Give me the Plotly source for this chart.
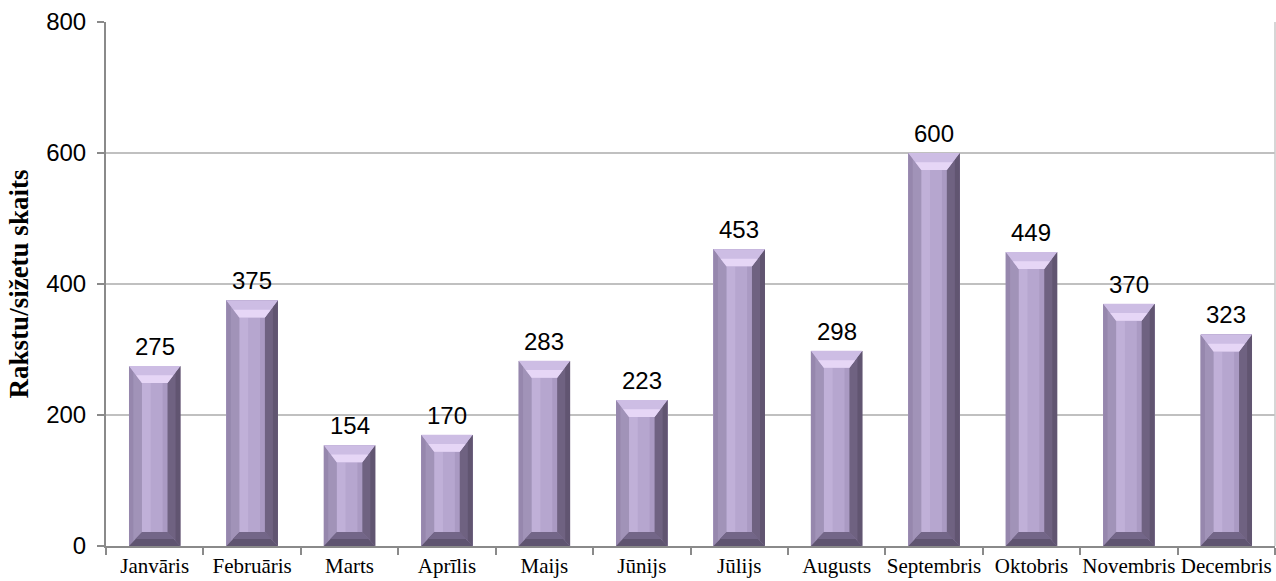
import plotly.graph_objects as go

# Monthly article/story counts
months = ["Janvāris", "Februāris", "Marts", "Aprīlis", "Maijs", "Jūnijs",
          "Jūlijs", "Augusts", "Septembris", "Oktobris", "Novembris", "Decembris"]
counts = [275, 375, 154, 170, 283, 223, 453, 298, 600, 449, 370, 323]
y_ticks = [0, 200, 400, 600, 800]

xs = list(range(len(months)))

# Bar geometry (in axis units) for the bevelled look
BAR_W = 0.528          # bar width as a fraction of category spacing
BEV_X = 0.133          # side bevel width
BEV_TOP = 26           # top bevel height (value units)
BEV_BOT = 21           # bottom bevel height (value units)


def polys(builder):
    """Join per-bar polygons into one path separated by gaps."""
    px, py = [], []
    for x, v in zip(xs, counts):
        pts = builder(x - BAR_W / 2, x + BAR_W / 2, v)
        for a, b in pts:
            px.append(a)
            py.append(b)
        px.append(pts[0][0])
        py.append(pts[0][1])
        px.append(None)
        py.append(None)
    return px, py


def face(builder, color):
    px, py = polys(builder)
    return go.Scatter(x=px, y=py, mode="lines", fill="toself",
                      fillcolor=color, line=dict(width=0),
                      hoverinfo="skip", showlegend=False)


fig = go.Figure()

# Main bar bodies
fig.add_trace(go.Bar(x=xs, y=counts, width=BAR_W,
                     marker=dict(color="#b6a6cf", line=dict(width=0)),
                     hovertemplate="%{customdata}: %{y}<extra></extra>",
                     customdata=months, showlegend=False))

# Soft highlight on the front face
fig.add_trace(face(lambda x0, x1, v: [
    (x0 + BEV_X, BEV_BOT), (x0 + BEV_X + 0.09, BEV_BOT),
    (x0 + BEV_X + 0.09, v - BEV_TOP), (x0 + BEV_X, v - BEV_TOP)], "#c0b0d8"))
fig.add_trace(face(lambda x0, x1, v: [
    (x1 - BEV_X - 0.05, BEV_BOT), (x1 - BEV_X, BEV_BOT),
    (x1 - BEV_X, v - BEV_TOP), (x1 - BEV_X - 0.05, v - BEV_TOP)], "#aa9ac3"))

# Left bevel
fig.add_trace(face(lambda x0, x1, v: [
    (x0, 0), (x0, v), (x0 + BEV_X, v - BEV_TOP), (x0 + BEV_X, BEV_BOT)], "#a193b8"))
fig.add_trace(face(lambda x0, x1, v: [
    (x0, 0), (x0, v), (x0 + 0.045, v - BEV_TOP * 0.045 / BEV_X),
    (x0 + 0.045, BEV_BOT * 0.045 / BEV_X)], "#9687ad"))

# Right bevel
fig.add_trace(face(lambda x0, x1, v: [
    (x1, 0), (x1, v), (x1 - BEV_X, v - BEV_TOP), (x1 - BEV_X, BEV_BOT)], "#6f6281"))
fig.add_trace(face(lambda x0, x1, v: [
    (x1, 0), (x1, v), (x1 - 0.05, v - BEV_TOP * 0.05 / BEV_X),
    (x1 - 0.05, BEV_BOT * 0.05 / BEV_X)], "#615571"))

# Top bevel with a bright inner rim
fig.add_trace(face(lambda x0, x1, v: [
    (x0, v), (x1, v), (x1 - BEV_X, v - BEV_TOP), (x0 + BEV_X, v - BEV_TOP)], "#cdbde4"))
fig.add_trace(face(lambda x0, x1, v: [
    (x0 + BEV_X * 0.55, v - BEV_TOP * 0.55), (x1 - BEV_X * 0.55, v - BEV_TOP * 0.55),
    (x1 - BEV_X, v - BEV_TOP), (x0 + BEV_X, v - BEV_TOP)], "#e6d6f6"))

# Bottom bevel
fig.add_trace(face(lambda x0, x1, v: [
    (x0, 0), (x1, 0), (x1 - BEV_X, BEV_BOT), (x0 + BEV_X, BEV_BOT)], "#5f5470"))
fig.add_trace(face(lambda x0, x1, v: [
    (x0 + BEV_X * 0.5, BEV_BOT * 0.5), (x1 - BEV_X * 0.5, BEV_BOT * 0.5),
    (x1 - BEV_X, BEV_BOT), (x0 + BEV_X, BEV_BOT)], "#736688"))

# Value labels above each bar
for x, v in zip(xs, counts):
    fig.add_annotation(x=x, y=v, text=str(v), showarrow=False,
                       yanchor="bottom", yshift=4,
                       font=dict(family="Liberation Sans, Arial", size=24, color="#000000"))

# Thin frame line on the right edge of the plot area
fig.add_shape(type="line", xref="paper", yref="paper", x0=1, x1=1, y0=0, y1=1,
              line=dict(color="#c8c8c8", width=1.5))

fig.update_layout(
    width=1276, height=581,
    margin=dict(l=106, r=1, t=22, b=35),
    paper_bgcolor="white", plot_bgcolor="white",
    bargap=0,
    xaxis=dict(
        range=[-0.5, len(months) - 0.5],
        tickmode="array", tickvals=xs, ticktext=months,
        tickangle=0, automargin=False,
        ticks="", showgrid=False, zeroline=False,
        showline=True, linecolor="#8a8a8a", linewidth=2,
        tickfont=dict(family="Liberation Serif, Times New Roman", size=21, color="#000000"),
        minor=dict(tickmode="linear", tick0=-0.5, dtick=1, ticks="outside",
                   ticklen=7, tickwidth=2, tickcolor="#8a8a8a", showgrid=False),
    ),
    yaxis=dict(
        range=[0, 800], tickmode="array", tickvals=y_ticks,
        automargin=False,
        ticks="outside", ticklen=7, tickwidth=2, tickcolor="#8a8a8a",
        showline=True, linecolor="#8a8a8a", linewidth=2,
        showgrid=True, gridcolor="#c0c0c0", gridwidth=2, zeroline=False,
        ticklabelstandoff=6,
        tickfont=dict(family="Liberation Sans, Arial", size=24, color="#000000"),
        title=dict(text="<b>Rakstu/sižetu skaits</b>", standoff=10,
                   font=dict(family="Liberation Serif, Times New Roman", size=27, color="#000000")),
    ),
)

fig.write_html("out.html")
